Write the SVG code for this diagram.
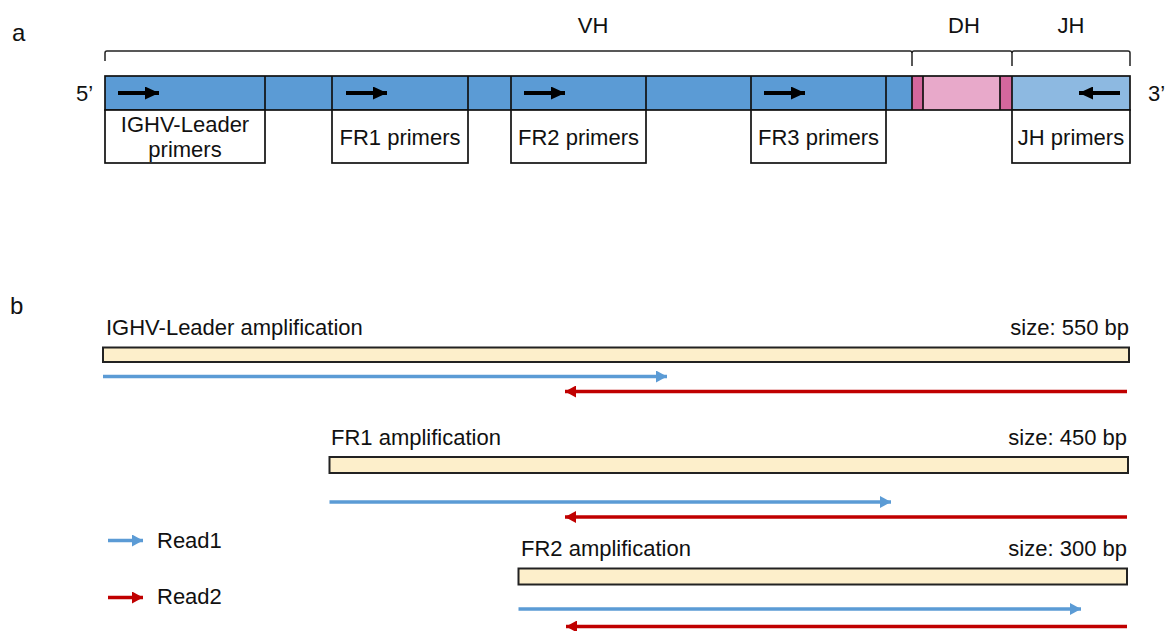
<svg xmlns="http://www.w3.org/2000/svg" width="1172" height="631" viewBox="0 0 1172 631">
  <defs>
    <style>
      text { font-family: "Liberation Sans", Arial, sans-serif; fill: #111; }
      .lbl { font-size: 22px; }
      .mid { text-anchor: middle; }
      .end { text-anchor: end; }
      .panel { font-size: 24px; }
      .seg { stroke: none; }
      .outline { fill: none; stroke: #111; stroke-width: 1.7; }
      .box { fill: #fff; stroke: #111; stroke-width: 1.7; }
      .brace { fill: none; stroke: #222; stroke-width: 1.5; }
      .amp { fill: #FDEFCB; stroke: #222; stroke-width: 2; }
      .r1 { stroke: #5B9BD5; stroke-width: 3.5; fill: none; }
      .r2 { stroke: #C00000; stroke-width: 3.5; fill: none; }
      .primer { stroke: #000; stroke-width: 4; fill: none; }
    </style>
    <marker id="headBlack" markerUnits="userSpaceOnUse" markerWidth="14" markerHeight="13" refX="14" refY="6.5" orient="auto">
      <path d="M0,0 L14,6.5 L0,13 z" fill="#000"/>
    </marker>
    <marker id="headBlue" markerUnits="userSpaceOnUse" markerWidth="11" markerHeight="12" refX="11" refY="6" orient="auto">
      <path d="M0,0 L11,6 L0,12 z" fill="#5B9BD5"/>
    </marker>
    <marker id="headRed" markerUnits="userSpaceOnUse" markerWidth="11" markerHeight="12" refX="11" refY="6" orient="auto">
      <path d="M0,0 L11,6 L0,12 z" fill="#C00000"/>
    </marker>
  </defs>

  <rect width="1172" height="631" fill="#fff"/>

  <!-- panel a -->
  <text class="panel" x="12" y="41">a</text>

  <!-- segment braces -->
  <g id="braces">
    <path class="brace" d="M105,61 V53 Q105,51 107,51 H910 Q912,51 912,53 V66"/>
    <path class="brace" d="M912,53 Q912,51 914,51 H1010 Q1012,51 1012,53 V66"/>
    <path class="brace" d="M1012,53 Q1012,51 1014,51 H1128 Q1130,51 1130,53 V66"/>
    <text class="lbl mid" x="593" y="33">VH</text>
    <text class="lbl mid" x="964" y="33">DH</text>
    <text class="lbl mid" x="1071" y="33">JH</text>
  </g>

  <!-- IGH locus bar -->
  <g id="locus">
    <rect class="seg" x="105" y="76" width="807" height="34" fill="#5B9BD5"/>
    <rect class="seg" x="912" y="76" width="11" height="34" fill="#D4679D"/>
    <rect class="seg" x="923" y="76" width="77" height="34" fill="#E8A9CA"/>
    <rect class="seg" x="1000" y="76" width="12" height="34" fill="#D4679D"/>
    <rect class="seg" x="1012" y="76" width="118" height="34" fill="#8DB9E1"/>
    <rect class="outline" x="105" y="76" width="1025" height="34"/>
    <path class="outline" d="M265,76V110 M332,76V110 M468,76V110 M511,76V110 M646,76V110 M751,76V110 M886,76V110 M912,76V110 M923,76V110 M1000,76V110 M1012,76V110"/>
    <text class="lbl" x="76" y="101">5’</text>
    <text class="lbl" x="1148" y="101">3’</text>
  </g>

  <!-- primer sets -->
  <g id="primer-leader">
    <line class="primer" x1="118" y1="93" x2="159" y2="93" marker-end="url(#headBlack)"/>
    <rect class="box" x="105" y="110" width="160" height="53"/>
    <text class="lbl mid" x="185" y="132">IGHV-Leader</text>
    <text class="lbl mid" x="185" y="157">primers</text>
  </g>
  <g id="primer-fr1">
    <line class="primer" x1="346" y1="93" x2="387" y2="93" marker-end="url(#headBlack)"/>
    <rect class="box" x="332" y="110" width="136" height="53"/>
    <text class="lbl mid" x="400" y="145">FR1 primers</text>
  </g>
  <g id="primer-fr2">
    <line class="primer" x1="524" y1="93" x2="565" y2="93" marker-end="url(#headBlack)"/>
    <rect class="box" x="511" y="110" width="135" height="53"/>
    <text class="lbl mid" x="578.5" y="145">FR2 primers</text>
  </g>
  <g id="primer-fr3">
    <line class="primer" x1="764" y1="93" x2="805" y2="93" marker-end="url(#headBlack)"/>
    <rect class="box" x="751" y="110" width="135" height="53"/>
    <text class="lbl mid" x="818.5" y="145">FR3 primers</text>
  </g>
  <g id="primer-jh">
    <line class="primer" x1="1120" y1="93" x2="1079" y2="93" marker-end="url(#headBlack)"/>
    <rect class="box" x="1012" y="110" width="118" height="53"/>
    <text class="lbl mid" x="1071" y="145">JH primers</text>
  </g>

  <!-- panel b -->
  <text class="panel" x="10" y="314">b</text>

  <g id="amp-leader">
    <text class="lbl" x="106" y="335">IGHV-Leader amplification</text>
    <text class="lbl end" x="1129" y="335">size: 550 bp</text>
    <rect class="amp" x="103" y="347.5" width="1026" height="14.5"/>
  </g>
  <g id="amp-fr1">
    <text class="lbl" x="331" y="445">FR1 amplification</text>
    <text class="lbl end" x="1127" y="445">size: 450 bp</text>
    <rect class="amp" x="329.5" y="457" width="798.5" height="16"/>
  </g>
  <g id="amp-fr2">
    <text class="lbl" x="521" y="556">FR2 amplification</text>
    <text class="lbl end" x="1127" y="556">size: 300 bp</text>
    <rect class="amp" x="518.5" y="568.5" width="608.5" height="16"/>
  </g>

  <!-- sequencing reads -->
  <g id="reads">
    <line class="r1" x1="103" y1="376.5" x2="667" y2="376.5" marker-end="url(#headBlue)"/>
    <line class="r2" x1="1127" y1="391.5" x2="565" y2="391.5" marker-end="url(#headRed)"/>
    <line class="r1" x1="329.5" y1="502" x2="891" y2="502" marker-end="url(#headBlue)"/>
    <line class="r2" x1="1127" y1="517" x2="565" y2="517" marker-end="url(#headRed)"/>
    <line class="r1" x1="518.5" y1="609" x2="1081" y2="609" marker-end="url(#headBlue)"/>
    <line class="r2" x1="1127" y1="626.5" x2="566" y2="626.5" marker-end="url(#headRed)"/>
  </g>

  <!-- legend -->
  <g id="legend">
    <line class="r1" x1="108" y1="540.5" x2="143" y2="540.5" marker-end="url(#headBlue)"/>
    <text class="lbl" x="157" y="548">Read1</text>
    <line class="r2" x1="108" y1="597.5" x2="143" y2="597.5" marker-end="url(#headRed)"/>
    <text class="lbl" x="157" y="604">Read2</text>
  </g>
</svg>
